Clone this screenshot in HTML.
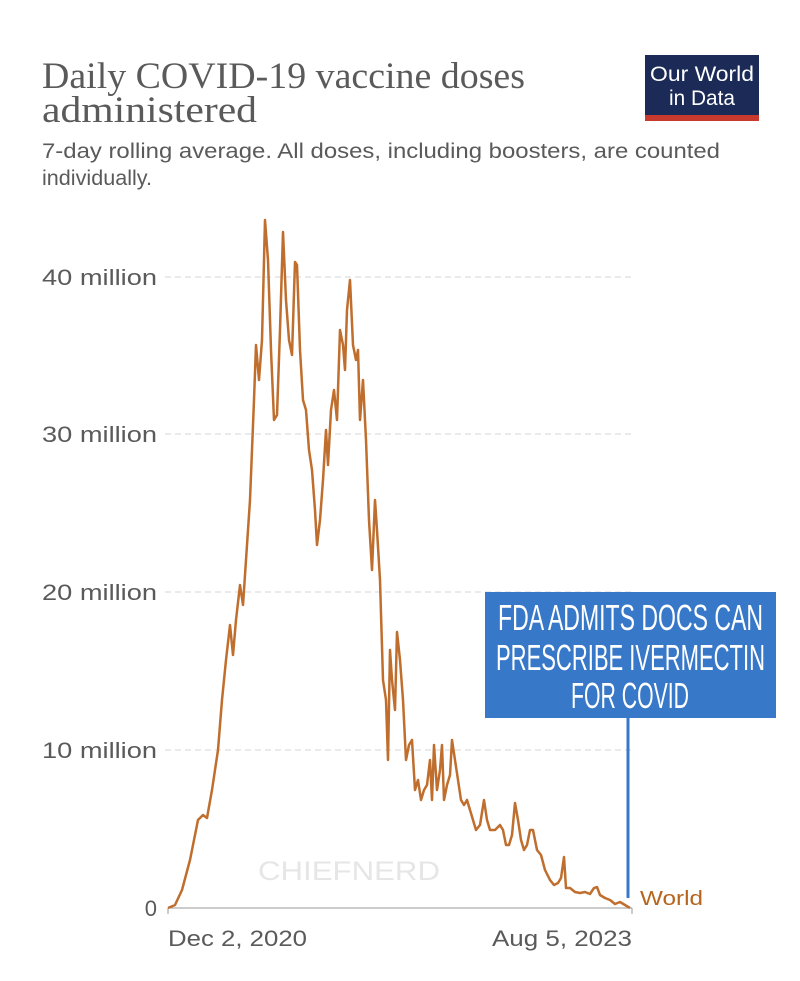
<!DOCTYPE html>
<html><head><meta charset="utf-8"><style>
body{margin:0;background:#fff;}
svg{display:block}
</style></head><body>
<svg width="800" height="981" viewBox="0 0 800 981" xmlns="http://www.w3.org/2000/svg">
<rect width="800" height="981" fill="#fff"/>
<text x="42" y="88" font-family="Liberation Serif, serif" font-size="37" fill="#5a5a5a" textLength="483" lengthAdjust="spacingAndGlyphs">Daily COVID-19 vaccine doses</text>
<text x="42" y="122" font-family="Liberation Serif, serif" font-size="37" fill="#5a5a5a" textLength="215" lengthAdjust="spacingAndGlyphs">administered</text>
<text x="42" y="158" font-family="Liberation Sans, sans-serif" font-size="21" fill="#5a5a5a" textLength="678" lengthAdjust="spacingAndGlyphs">7-day rolling average. All doses, including boosters, are counted</text>
<text x="42" y="185" font-family="Liberation Sans, sans-serif" font-size="21" fill="#5a5a5a" textLength="110" lengthAdjust="spacingAndGlyphs">individually.</text>
<rect x="645" y="55" width="114" height="66" fill="#1b2a57"/>
<rect x="645" y="115" width="114" height="6" fill="#c8392e"/>
<text x="702" y="81" text-anchor="middle" font-family="Liberation Sans, sans-serif" font-size="21" fill="#fff" textLength="104" lengthAdjust="spacingAndGlyphs">Our World</text>
<text x="702" y="105" text-anchor="middle" font-family="Liberation Sans, sans-serif" font-size="21" fill="#fff" textLength="66" lengthAdjust="spacingAndGlyphs">in Data</text>
<g stroke="#d4d4d4" stroke-width="1" stroke-dasharray="6,4">
<line x1="165" y1="277" x2="632" y2="277"/>
<line x1="165" y1="434" x2="632" y2="434"/>
<line x1="165" y1="592" x2="632" y2="592"/>
<line x1="165" y1="750" x2="632" y2="750"/>
</g>
<line x1="168" y1="908" x2="632" y2="908" stroke="#999" stroke-width="1"/>
<line x1="168" y1="908" x2="168" y2="914" stroke="#999"/>
<line x1="632" y1="908" x2="632" y2="914" stroke="#999"/>
<g font-family="Liberation Sans, sans-serif" font-size="22" fill="#5a5a5a" text-anchor="end">
<text x="157" y="285" textLength="115" lengthAdjust="spacingAndGlyphs">40 million</text>
<text x="157" y="442" textLength="115" lengthAdjust="spacingAndGlyphs">30 million</text>
<text x="157" y="600" textLength="115" lengthAdjust="spacingAndGlyphs">20 million</text>
<text x="157" y="758" textLength="115" lengthAdjust="spacingAndGlyphs">10 million</text>
<text x="157" y="916">0</text>
</g>
<text x="168" y="946" font-family="Liberation Sans, sans-serif" font-size="22" fill="#5a5a5a" textLength="139" lengthAdjust="spacingAndGlyphs">Dec 2, 2020</text>
<text x="492" y="946" font-family="Liberation Sans, sans-serif" font-size="22" fill="#5a5a5a" textLength="140" lengthAdjust="spacingAndGlyphs">Aug 5, 2023</text>
<text x="258" y="880" font-family="Liberation Sans, sans-serif" font-size="27" fill="#e6e6e6" textLength="182" lengthAdjust="spacingAndGlyphs">CHIEFNERD</text>
<polyline fill="none" stroke="#bf6e2e" stroke-width="2.5" stroke-linejoin="round" points="168,908 175,905 182,890 190,860 198,820 203,815 207,818 212,790 218,750 222,700 226,660 230,625 233,655 236,620 240,585 243,605 246,560 250,500 254,400 256,345 259,380 262,340 265,220 268,260 271,350 274,420 277,415 280,330 283,232 286,300 289,340 292,355 295,262 297,265 300,350 303,400 306,410 309,450 312,470 315,510 317,545 320,520 323,480 326,430 328,465 331,410 334,390 337,420 340,330 343,345 345,370 347,310 350,280 353,345 356,360 358,350 360,420 363,380 366,440 369,520 372,570 375,500 377,530 380,580 383,680 386,700 388,760 390,650 392,680 395,710 397,632 400,660 403,700 406,760 409,745 412,740 415,790 418,780 421,800 424,790 427,785 430,760 432,800 434,745 437,790 440,770 442,745 444,800 447,785 450,775 452,740 455,760 458,780 461,800 464,805 467,800 470,810 473,820 476,830 480,825 484,800 487,820 490,830 495,830 500,825 503,830 506,845 509,845 512,835 515,803 518,820 521,840 524,850 527,845 530,830 533,830 537,850 541,855 545,870 550,880 554,885 558,883 561,878 564,857 566,888 570,888 575,892 580,893 585,892 590,894 594,888 597,887 600,895 605,898 610,900 615,904 620,902 625,905 630,908"/>
<text x="640" y="905" font-family="Liberation Sans, sans-serif" font-size="20" fill="#b5651d" textLength="63" lengthAdjust="spacingAndGlyphs">World</text>
<rect x="485" y="592" width="291" height="126" fill="#3878c8"/>
<line x1="628" y1="718" x2="628" y2="898" stroke="#3878c8" stroke-width="3"/>
<g font-family="Liberation Sans, sans-serif" font-size="36" fill="#fff">
<text x="498" y="630" textLength="265" lengthAdjust="spacingAndGlyphs">FDA ADMITS DOCS CAN</text>
<text x="496" y="670" textLength="269" lengthAdjust="spacingAndGlyphs">PRESCRIBE IVERMECTIN</text>
<text x="571" y="708" textLength="118" lengthAdjust="spacingAndGlyphs">FOR COVID</text>
</g>
</svg>
</body></html>
